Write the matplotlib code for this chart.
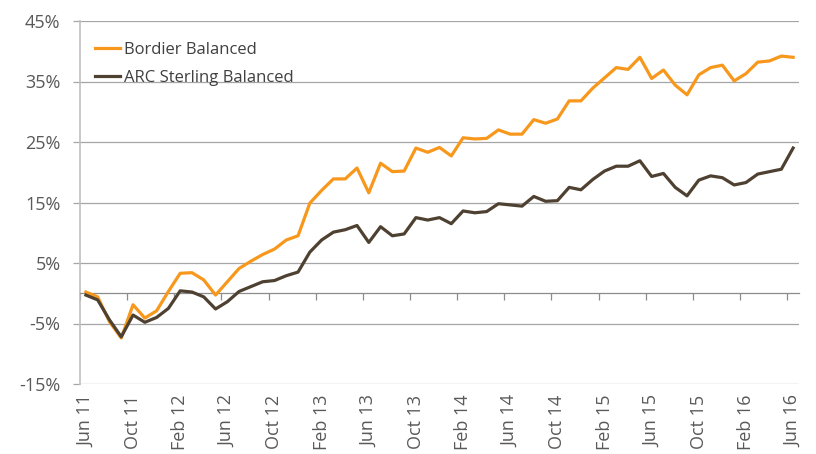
import matplotlib
matplotlib.use("Agg")
import matplotlib.pyplot as plt
from matplotlib.ticker import FixedLocator, FuncFormatter

months = ["Jun", "Jul", "Aug", "Sep", "Oct", "Nov", "Dec", "Jan", "Feb", "Mar", "Apr", "May"]
# monthly categories Jun 11 .. Jun 16
categories = []
yr = 11
for k in range(61):
    m = months[k % 12]
    if m == "Jan":
        yr += 1
    categories.append(f"{m} {yr}")

bordier = [0.2, -0.6, -4.7, -7.4, -1.9, -4.1, -2.9, 0.3, 3.3, 3.4,
           2.2, -0.3, 1.9, 4.1, 5.3, 6.4, 7.3, 8.8, 9.5, 14.9,
           17.0, 18.9, 18.9, 20.7, 16.6, 21.5, 20.1, 20.2, 24.0, 23.3,
           24.1, 22.7, 25.7, 25.5, 25.6, 27.0, 26.3, 26.3, 28.7, 28.1,
           28.8, 31.8, 31.8, 33.9, 35.6, 37.3, 37.0, 39.0, 35.5, 36.9,
           34.4, 32.8, 36.1, 37.3, 37.7, 35.1, 36.3, 38.2, 38.4, 39.2,
           39.0]
arc = [-0.3, -1.1, -4.4, -7.2, -3.6, -4.8, -4.0, -2.5, 0.4, 0.2,
       -0.6, -2.6, -1.4, 0.3, 1.1, 1.9, 2.1, 2.9, 3.5, 6.8,
       8.8, 10.1, 10.5, 11.2, 8.4, 11.0, 9.5, 9.8, 12.5, 12.1,
       12.5, 11.5, 13.6, 13.3, 13.5, 14.8, 14.6, 14.4, 16.0, 15.2,
       15.3, 17.5, 17.1, 18.8, 20.2, 21.0, 21.0, 21.9, 19.3, 19.8,
       17.5, 16.1, 18.7, 19.4, 19.1, 17.9, 18.3, 19.7, 20.1, 20.5,
       24.0]
series_names = ["Bordier Balanced", "ARC Sterling Balanced"]
y_ticks = [-15, -5, 5, 15, 25, 35, 45]

plt.rcParams['font.family'] = ['Open Sans', 'DejaVu Sans']

fig = plt.figure(figsize=(8.16, 4.54), dpi=100)
ax = fig.add_axes([80/816, 1-384/454, 719/816, 363/454])

x = list(range(len(categories)))
ax.plot(x, bordier, color="#F7981D", lw=2.3, label=series_names[0], solid_joinstyle="round", zorder=3)
ax.plot(x, arc, color="#4E4131", lw=2.3, label=series_names[1], solid_joinstyle="round", zorder=3)

ax.set_xlim(-0.5, len(categories) - 0.5)
ax.set_ylim(-15, 45)

# y axis
ax.yaxis.set_major_locator(FixedLocator(y_ticks))
ax.yaxis.set_major_formatter(FuncFormatter(lambda v, p: f"{int(v)}%"))
ax.grid(axis="y", color="#A6A6A6", lw=0.9, zorder=0)
ax.tick_params(axis="y", length=5, width=0.9, color="#A6A6A6", pad=9,
               labelsize=13, labelcolor="#595959")

# x axis: spine at zero, labels every 4 months
ax.spines["bottom"].set_position(("data", 0))
ax.spines["bottom"].set_color("#8C8C8C")
ax.spines["bottom"].set_linewidth(0.9)
ax.spines["left"].set_color("#C0C0C0")
ax.spines["left"].set_linewidth(1.2)
ax.spines["top"].set_visible(False)
ax.spines["right"].set_visible(False)

label_idx = list(range(0, len(categories), 4))
ax.set_xticks(label_idx)
ax.set_xticklabels([categories[i] for i in label_idx], rotation=90)
ax.set_xticks([i - 0.5 for i in label_idx], minor=True)
ax.tick_params(axis="x", which="major", length=0, pad=73, labelsize=13, labelcolor="#595959")
ax.tick_params(axis="x", which="minor", length=5, width=0.9, color="#8C8C8C")

leg = ax.legend(loc="upper left", bbox_to_anchor=((95-80)/719, (384-42)/363),
                frameon=False, fontsize=12, handlelength=1.5, handletextpad=0.25,
                borderpad=0, borderaxespad=0, labelspacing=0.72)
for t in leg.get_texts():
    t.set_color("#404040")

fig.savefig("out.png", dpi=100)
